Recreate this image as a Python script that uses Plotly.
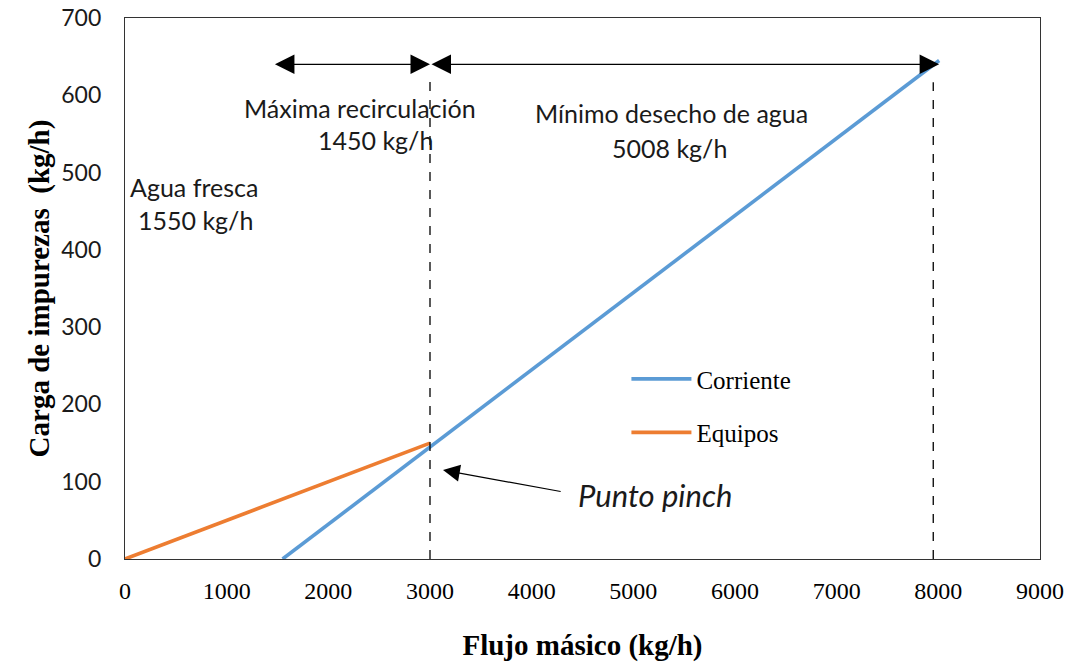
import plotly.graph_objects as go

# Composite curves (kg/h)
corriente_x = [1550, 8008]
corriente_y = [0, 645]
equipos_x = [0, 3000]
equipos_y = [0, 150]

# Reference marks
pinch_x = 3000
max_flow_x = 7950
arrow_level = 640
fresh_start_x = 1460
waste_end_x = 8008

x_ticks = [0, 1000, 2000, 3000, 4000, 5000, 6000, 7000, 8000, 9000]
y_ticks = [0, 100, 200, 300, 400, 500, 600, 700]

BLUE = "#5B9BD5"
ORANGE = "#ED7D31"
SERIF = "Liberation Serif"
SANS = "Lato"

fig = go.Figure()
fig.add_trace(go.Scatter(x=corriente_x, y=corriente_y, mode="lines", name="Corriente",
                         legendgroup="a", line=dict(color=BLUE, width=3.6)))
fig.add_trace(go.Scatter(x=equipos_x, y=equipos_y, mode="lines", name="Equipos",
                         legendgroup="b", line=dict(color=ORANGE, width=3.6)))

# Dashed guide lines
fig.add_shape(type="line", x0=pinch_x, x1=pinch_x, y0=0, y1=625,
              line=dict(color="black", width=1.3, dash="dash"))
fig.add_shape(type="line", x0=max_flow_x, x1=max_flow_x, y0=0, y1=617,
              line=dict(color="black", width=1.3, dash="dash"))

# Double-headed span arrows
for x0, x1 in [(fresh_start_x, pinch_x), (pinch_x, waste_end_x)]:
    fig.add_annotation(x=x1, y=arrow_level, ax=x0, ay=arrow_level, xref="x", yref="y",
                       axref="x", ayref="y", text="", showarrow=True, arrowhead=2,
                       arrowside="end+start", arrowsize=3.0, arrowwidth=1.3,
                       arrowcolor="black", standoff=0, startstandoff=0)

# Pinch pointer
fig.add_annotation(x=3128, y=115, ax=4300, ay=87, xref="x", yref="y", axref="x", ayref="y",
                   text="", showarrow=True, arrowhead=2, arrowsize=2.8, arrowwidth=1.2,
                   arrowcolor="black", standoff=0)

labels = [
    ("Máxima recirculación", 2311, 583),
    ("1450 kg/h", 2459, 542),
    ("Mínimo desecho de agua", 5380, 577),
    ("5008 kg/h", 5360, 532),
    ("Agua fresca", 679, 481),
    ("1550 kg/h", 689, 439),
]
for txt, x, y in labels:
    fig.add_annotation(x=x, y=y, xref="x", yref="y", text=txt, showarrow=False,
                       xanchor="center", yanchor="middle",
                       font=dict(family=SANS, size=25, color="#1a1a1a"))

fig.add_annotation(x=5213, y=83, xref="x", yref="y", text="<i>Punto pinch</i>",
                   showarrow=False, xanchor="center", yanchor="middle",
                   font=dict(family=SANS, size=31, color="#1a1a1a"))

fig.update_layout(
    width=1078, height=666,
    margin=dict(l=125, r=38, t=18, b=107),
    paper_bgcolor="white", plot_bgcolor="white",
    showlegend=True,
    legend=dict(x=0.548, y=0.375, xanchor="left", yanchor="top",
                font=dict(family=SERIF, size=25, color="black"),
                bgcolor="rgba(0,0,0,0)", itemwidth=60,
                traceorder="grouped", tracegroupgap=18),
)
fig.update_xaxes(range=[0, 9000], tickvals=x_ticks, ticks="", showgrid=False, zeroline=False,
                 showline=True, linecolor="#333", linewidth=1.2, mirror=True,
                 automargin=False,
                 tickfont=dict(family=SERIF, size=24, color="black"),
                 ticklabelstandoff=10,
                 title=dict(text="<b>Flujo másico (kg/h)</b>", standoff=31,
                            font=dict(family=SERIF, size=29, color="black")))
fig.update_yaxes(range=[0, 700], tickvals=y_ticks, ticks="", showgrid=False, zeroline=False,
                 showline=True, linecolor="#333", linewidth=1.2, mirror=True,
                 automargin=False,
                 tickfont=dict(family=SANS, size=23, color="#1a1a1a"),
                 ticklabelstandoff=18,
                 title=dict(text="<b>Carga de impurezas  (kg/h)</b>", standoff=3,
                            font=dict(family=SERIF, size=29, color="black")))

fig.write_html("out.html")
